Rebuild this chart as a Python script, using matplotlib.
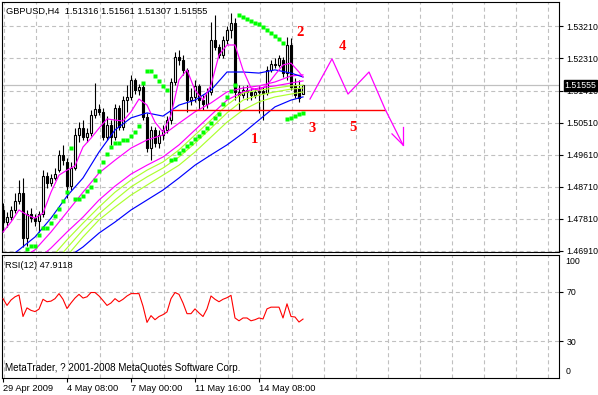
import matplotlib
matplotlib.use("Agg")
import matplotlib.pyplot as plt
from matplotlib.transforms import blended_transform_factory

plt.rcParams['font.family'] = ['Liberation Sans', 'DejaVu Sans']
plt.rcParams['lines.scale_dashes'] = False

# ---------------- data ----------------
symbol_title = "GBPUSD,H4  1.51316 1.51561 1.51307 1.51555"
rsi_title = "RSI(12) 47.9118"
copyright_text = "MetaTrader, ? 2001-2008 MetaQuotes Software Corp."

opens = [1.4805, 1.4771, 1.4785, 1.4805, 1.4830, 1.4853, 1.4726, 1.4794, 1.4782, 1.4774,
         1.4794, 1.4900, 1.4881, 1.4895, 1.4917, 1.4960, 1.4940, 1.4872, 1.4923, 1.5016,
         1.5035, 1.5010, 1.5021, 1.5072, 1.5089, 1.5081, 1.5010, 1.5044, 1.5010, 1.5092,
         1.5038, 1.5114, 1.5123, 1.5171, 1.5142, 1.5151, 1.5066, 1.4979, 1.5030, 1.4993,
         1.5016, 1.5030, 1.5058, 1.5165, 1.5235, 1.5227, 1.5199, 1.5114, 1.5123, 1.5154,
         1.5114, 1.5103, 1.5137, 1.5283, 1.5263, 1.5241, 1.5283, 1.5311, 1.5331, 1.5137,
         1.5128, 1.5142, 1.5137, 1.5128, 1.5137, 1.5140, 1.5134, 1.5199, 1.5216, 1.5213,
         1.5227, 1.5190, 1.5269, 1.5156, 1.5148, 1.51316]
closes = [1.4771, 1.4785, 1.4805, 1.4830, 1.4853, 1.4726, 1.4794, 1.4782, 1.4774, 1.4794,
          1.4900, 1.4881, 1.4895, 1.4906, 1.4960, 1.4945, 1.4872, 1.4923, 1.5016, 1.5035,
          1.5010, 1.5021, 1.5072, 1.5089, 1.5081, 1.5010, 1.5044, 1.5010, 1.5092, 1.5038,
          1.5114, 1.5123, 1.5171, 1.5142, 1.5151, 1.5066, 1.4979, 1.5030, 1.4993, 1.5016,
          1.5030, 1.5058, 1.5165, 1.5235, 1.5227, 1.5199, 1.5114, 1.5123, 1.5154, 1.5114,
          1.5103, 1.5137, 1.5283, 1.5263, 1.5241, 1.5283, 1.5311, 1.5331, 1.5137, 1.5128,
          1.5142, 1.5137, 1.5128, 1.5137, 1.5140, 1.5134, 1.5199, 1.5216, 1.5213, 1.5232,
          1.5190, 1.5269, 1.5151, 1.5128, 1.5120, 1.51555]
highs = [1.4825, 1.4799, 1.4816, 1.4853, 1.4889, 1.4895, 1.4805, 1.4811, 1.4794, 1.4802,
         1.4917, 1.4912, 1.4906, 1.4923, 1.4974, 1.4988, 1.4951, 1.4940, 1.5035, 1.5052,
         1.5058, 1.5035, 1.5086, 1.5162, 1.5103, 1.5092, 1.5069, 1.5058, 1.5103, 1.5100,
         1.5125, 1.5156, 1.5185, 1.5176, 1.5159, 1.5165, 1.5078, 1.5041, 1.5038, 1.5030,
         1.5044, 1.5069, 1.5176, 1.5249, 1.5255, 1.5241, 1.5204, 1.5148, 1.5171, 1.5159,
         1.5128, 1.5148, 1.5334, 1.5353, 1.5272, 1.5294, 1.5322, 1.5359, 1.5345, 1.5156,
         1.5154, 1.5156, 1.5148, 1.5148, 1.5154, 1.5151, 1.5210, 1.5227, 1.5232, 1.5241,
         1.5235, 1.5292, 1.5289, 1.5176, 1.5171, 1.51561]
lows = [1.4743, 1.4757, 1.4777, 1.4796, 1.4822, 1.4701, 1.4704, 1.4771, 1.4760, 1.4743,
        1.4785, 1.4867, 1.4872, 1.4889, 1.4912, 1.4931, 1.4839, 1.4861, 1.4917, 1.4996,
        1.5002, 1.4996, 1.5013, 1.5064, 1.5072, 1.5002, 1.5002, 1.4988, 1.5002, 1.5030,
        1.5030, 1.5081, 1.5114, 1.5131, 1.5128, 1.5058, 1.4968, 1.4945, 1.4982, 1.4979,
        1.5002, 1.5021, 1.5047, 1.5156, 1.5213, 1.5185, 1.5081, 1.5100, 1.5109, 1.5086,
        1.5086, 1.5092, 1.5128, 1.5255, 1.5232, 1.5232, 1.5272, 1.5289, 1.5114, 1.5086,
        1.5120, 1.5114, 1.5114, 1.5120, 1.5078, 1.5058, 1.5128, 1.5193, 1.5204, 1.5207,
        1.5179, 1.5171, 1.5142, 1.5120, 1.5109, 1.51307]
last_price = 1.51555

# fast magenta average, sampled every 2 bars
ma_fast_idx = list(range(0, 76, 2)) + [75]
ma_fast = [1.4743, 1.4771, 1.4805, 1.4791, 1.4782, 1.4796, 1.4855, 1.4903, 1.4917, 1.4929,
           1.4982, 1.5007, 1.5035, 1.5061, 1.5058, 1.5055, 1.5081, 1.5117, 1.5100, 1.5052,
           1.5024, 1.5072, 1.5171, 1.5199, 1.5142, 1.5114, 1.5156, 1.5241, 1.5269, 1.5269,
           1.5199, 1.5148, 1.5142, 1.5156, 1.5185, 1.5213, 1.5218, 1.5193, 1.5179]

# slower averages, sampled every 4 bars
ma_idx = list(range(0, 76, 4)) + [75]
ma_magenta2 = [1.4642, 1.4664, 1.4693, 1.4743, 1.4799, 1.4855, 1.4909, 1.4945, 1.4979, 1.5002,
               1.5016, 1.5049, 1.5081, 1.5106, 1.5137, 1.5148, 1.5154, 1.5165, 1.5182, 1.5185]
ma_magenta3 = [1.4594, 1.4622, 1.4659, 1.4698, 1.4743, 1.4785, 1.4833, 1.4872, 1.4906, 1.4931,
               1.4954, 1.4988, 1.5030, 1.5072, 1.5114, 1.5137, 1.5148, 1.5154, 1.5162, 1.5168]
ma_green1 = [1.4552, 1.4580, 1.4622, 1.4670, 1.4721, 1.4768, 1.4813, 1.4855, 1.4889, 1.4917,
             1.4940, 1.4974, 1.5016, 1.5058, 1.5100, 1.5134, 1.5142, 1.5148, 1.5154, 1.5156]
ma_green2 = [1.4524, 1.4557, 1.4600, 1.4647, 1.4698, 1.4749, 1.4794, 1.4833, 1.4870, 1.4898,
             1.4923, 1.4954, 1.4993, 1.5035, 1.5078, 1.5114, 1.5128, 1.5137, 1.5145, 1.5148]
ma_green3 = [1.4501, 1.4535, 1.4574, 1.4622, 1.4676, 1.4729, 1.4777, 1.4813, 1.4847, 1.4875,
             1.4903, 1.4931, 1.4968, 1.5010, 1.5052, 1.5086, 1.5109, 1.5123, 1.5131, 1.5137]
ma_blue1 = [1.4659, 1.4693, 1.4729, 1.4782, 1.4844, 1.4895, 1.4968, 1.5030, 1.5064, 1.5078,
            1.5069, 1.5100, 1.5114, 1.5142, 1.5193, 1.5193, 1.5190, 1.5199, 1.5190, 1.5179]
ma_blue2 = [1.4552, 1.4580, 1.4608, 1.4636, 1.4670, 1.4701, 1.4740, 1.4771, 1.4805, 1.4833,
            1.4861, 1.4895, 1.4931, 1.4960, 1.4988, 1.5021, 1.5058, 1.5095, 1.5114, 1.5123]

# parabolic SAR dots
sar_idx = list(range(6, 76))
sar_vals = [1.4695, 1.4704, 1.4704, 1.4735, 1.4754, 1.4754, 1.4768, 1.4788, 1.4808, 1.4830,
            1.4855, 1.4979, 1.4836, 1.4836, 1.4844, 1.4858, 1.4870, 1.4889, 1.4915, 1.4940,
            1.4962, 1.4982, 1.4993, 1.4993, 1.5002, 1.5002, 1.5013, 1.5024, 1.5041, 1.5162,
            1.5196, 1.5196, 1.5182, 1.5168, 1.5154, 1.5142, 1.4945, 1.4948, 1.4965, 1.4974,
            1.4985, 1.4993, 1.5004, 1.5013, 1.5024, 1.5035, 1.5049, 1.5064, 1.5075, 1.5103,
            1.5123, 1.5140, 1.5156, 1.5353, 1.5348, 1.5342, 1.5336, 1.5331, 1.5328, 1.5320,
            1.5311, 1.5303, 1.5294, 1.5286, 1.5275, 1.5061, 1.5064, 1.5069, 1.5075, 1.5078]

# RSI(12)
rsi_vals = [64.5, 59, 63.4, 66, 67.5, 50, 57, 55, 54, 56,
            64, 62, 62.5, 64.5, 68.6, 64, 56.5, 61, 65, 68,
            65, 66, 69.5, 69.5, 66.7, 63, 59, 61, 64.5, 62,
            64, 66.7, 68.6, 68.6, 68.6, 58.4, 45.2, 50.7, 47.4, 50,
            51.5, 53.7, 64.5, 69.5, 68, 61, 52.3, 52.3, 56.2, 52.9,
            50, 56.2, 66.7, 64, 62, 64, 65.3, 67.2, 48.8, 46.5,
            48.8, 48.8, 46.5, 47.4, 48.8, 48, 56.2, 57.6, 57.6, 57.6,
            48.8, 60.3, 50, 49.6, 45.5, 47.9118]
rsi_levels = [70, 30]

# hand-drawn objects: support line, projected path with arrow, wave labels
support_idx = [42.5, 95.5]
support_price = 1.5086
proj_idx = [76.75, 82.25, 86.25, 91.5, 95.5, 100.0]
proj_price = [1.5117, 1.5230, 1.5131, 1.5193, 1.5089, 1.4988]
arrow_barb_idx = [97.25, 100.0]
arrow_barb_price = [1.5019, 1.5038]
wave_labels = ["1", "2", "3", "4", "5"]
wave_idx = [62.75, 74.25, 77.25, 84.75, 87.5]
wave_price = [1.5004, 1.5303, 1.5035, 1.5266, 1.5038]

price_ticks = [1.53210, 1.52310, 1.51410, 1.50510, 1.49610, 1.48710, 1.47810, 1.46910]
date_tick_idx = [0, 16, 32, 48, 64]
date_labels = ["29 Apr 2009", "4 May 08:00", "7 May 00:00", "11 May 16:00", "14 May 08:00"]
vgrid_idx = [0.25 + 8 * k for k in range(18)]

# ---------------- figure ----------------
W, H = 598, 395
fig = plt.figure(figsize=(W / 100, H / 100), dpi=100)
fig.patch.set_facecolor('white')

def frac(left, top, right, bottom):
    return [left / W, (H - bottom) / H, (right - left) / W, (bottom - top) / H]

ax = fig.add_axes(frac(2, 2, 559, 252))
ar = fig.add_axes(frac(2, 255, 559, 378))

XMIN, XMAX = -0.25, 139.0
for a in (ax, ar):
    a.set_xlim(XMIN, XMAX)
    a.set_facecolor('white')
    for s in a.spines.values():
        s.set_color('black')
        s.set_linewidth(0.8)
ax.set_ylim(1.46868, 1.53899)
ar.set_ylim(0, 100)

FS = 6.7      # title / date texts
FSY = 6.3     # right-hand scale labels
GRID = dict(color='#C0C0C0', lw=0.8, ls=(0, (2.9, 2.2)), zorder=0)
for p in price_ticks:
    ax.axhline(p, **GRID)
for g in vgrid_idx:
    ax.axvline(g, **GRID)
    ar.axvline(g, **GRID)
for r in rsi_levels:
    ar.axhline(r, **GRID)

# current price line
ax.axhline(last_price, color='#C0C0C0', lw=0.9, zorder=0.5)

# candles
idx = list(range(len(closes)))
ax.vlines(idx, lows, highs, color='black', lw=0.8, zorder=2)
bottoms = [min(o, c) for o, c in zip(opens, closes)]
heights = [max(abs(c - o), 0.00004) for o, c in zip(opens, closes)]
fills = ['white' if c >= o else 'black' for o, c in zip(opens, closes)]
ax.bar(idx, heights, bottom=bottoms, width=0.6, color=fills, edgecolor='black',
       linewidth=0.8, zorder=2.1)

# moving averages
LW = 0.85
ax.plot(ma_idx, ma_blue2, color='#0000FF', lw=LW, zorder=3)
ax.plot(ma_idx, ma_green3, color='#ADFF2F', lw=LW, zorder=3)
ax.plot(ma_idx, ma_green2, color='#ADFF2F', lw=LW, zorder=3)
ax.plot(ma_idx, ma_green1, color='#ADFF2F', lw=LW, zorder=3)
ax.plot(ma_idx, ma_magenta3, color='#FF00FF', lw=LW, zorder=3)
ax.plot(ma_idx, ma_magenta2, color='#FF00FF', lw=LW, zorder=3)
ax.plot(ma_idx, ma_blue1, color='#0000FF', lw=LW, zorder=3)
ax.plot(ma_fast_idx, ma_fast, color='#FF00FF', lw=LW, zorder=3)

# parabolic SAR
ax.plot(sar_idx, sar_vals, ls='none', marker='s', ms=3.0, color='#00FF00',
        mec='none', zorder=4)

# drawn objects
ax.plot(support_idx, [support_price, support_price], color='#FF0000', lw=1.0, zorder=3.5)
ax.plot(proj_idx, proj_price, color='#FF00FF', lw=0.9, zorder=3.5)
ax.plot([arrow_barb_idx[0], proj_idx[-1]], [arrow_barb_price[0], proj_price[-1]],
        color='#FF00FF', lw=0.9, zorder=3.5)
ax.plot([arrow_barb_idx[1], proj_idx[-1]], [arrow_barb_price[1], proj_price[-1]],
        color='#FF00FF', lw=0.9, zorder=3.5)
for s, i, p in zip(wave_labels, wave_idx, wave_price):
    ax.text(i, p, s, color='#FF0000', fontsize=10.5, fontweight='bold',
            family='Liberation Serif', ha='center', va='center', zorder=5)

# main axis ticks
ax.set_xticks([])
ax.yaxis.tick_right()
ax.set_yticks(price_ticks)
ax.set_yticklabels([f"{p:.5f}" for p in price_ticks])
ax.tick_params(axis='y', direction='out', length=3, width=0.8, pad=2.5,
               labelsize=FSY, colors='black')

# current price box
tr = blended_transform_factory(ax.transAxes, ax.transData)
ax.text(1.0100, last_price, f"{last_price:.5f}", transform=tr, color='white',
        fontsize=FSY, ha='left', va='center', zorder=10, clip_on=False,
        bbox=dict(boxstyle='square,pad=0.1', fc='black', ec='black'))

# RSI
ar.plot(idx, rsi_vals, color='#FF0000', lw=0.8, zorder=3)
ar.yaxis.tick_right()
ar.set_yticks(rsi_levels)
ar.set_yticklabels([str(v) for v in rsi_levels])
ar.tick_params(axis='y', direction='out', length=3, width=0.8, pad=2.5,
               labelsize=FSY, colors='black')
ar.text(1.0115, 0.951, "100", transform=ar.transAxes, fontsize=FSY, ha='left', va='center')
ar.text(1.0115, 0.05, "0", transform=ar.transAxes, fontsize=FSY, ha='left', va='center')
ar.set_xticks(date_tick_idx)
ar.set_xticklabels(date_labels)
for lab in ar.get_xticklabels():
    lab.set_horizontalalignment('left')
ar.tick_params(axis='x', direction='out', length=3, width=0.8, pad=1.5,
               labelsize=FS, colors='black')

# texts
fig.text(6 / W, 1 - 11 / H, symbol_title, fontsize=FS, ha='left', va='center')
fig.text(5 / W, 1 - 265 / H, rsi_title, fontsize=FS, ha='left', va='center')
fig.text(5 / W, 1 - 368 / H, copyright_text, fontsize=7.1, ha='left', va='center')

fig.savefig("out.png", dpi=100, facecolor='white')
